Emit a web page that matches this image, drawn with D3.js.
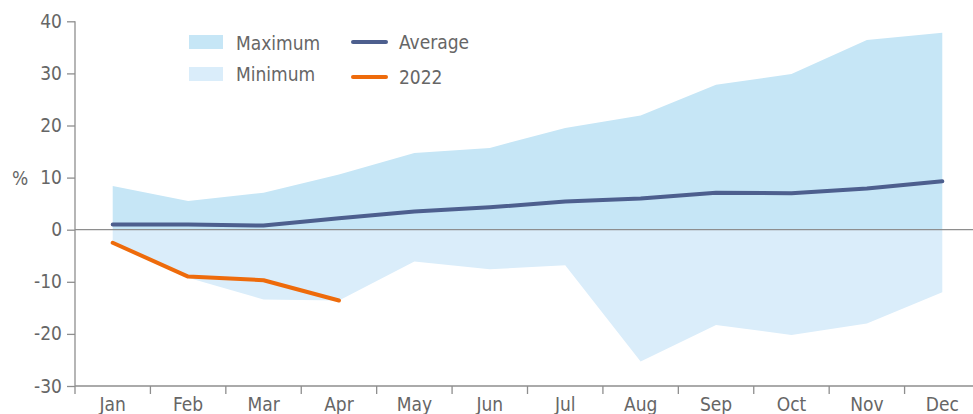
<!DOCTYPE html>
<html>
<head>
<meta charset="utf-8">
<script src="https://cdn.jsdelivr.net/npm/d3@7"></script>
<style>
  html, body { margin: 0; padding: 0; background: #fff; }
  svg { display: block; }
  text { font-family: "Liberation Sans Narrow", "DejaVu Sans Condensed", sans-serif; fill: #666; }
</style>
</head>
<body>
<svg id="chart" width="973" height="414"></svg>
<script>
const months = ["Jan","Feb","Mar","Apr","May","Jun","Jul","Aug","Sep","Oct","Nov","Dec"];
const maximum = [8.4, 5.5, 7.1, 10.6, 14.7, 15.7, 19.5, 21.9, 27.8, 29.9, 36.4, 37.8];
const minimum = [-2.5, -9.2, -13.4, -13.6, -6.1, -7.6, -6.8, -25.3, -18.3, -20.2, -18.0, -12.0];
const average = [1.0, 1.0, 0.8, 2.2, 3.5, 4.3, 5.4, 6.0, 7.1, 7.0, 7.9, 9.3];
const y2022 = [-2.5, -9.0, -9.7, -13.6];
const yTicks = [40, 30, 20, 10, 0, -10, -20, -30];

const svg = d3.select("#chart");
const W = 973;
const x = d3.scaleBand().domain(months).range([75, 980]);
const y = d3.scaleLinear().domain([-30, 40]).range([386, 21.3]);
const cx = m => x(m) + x.bandwidth() / 2;

const axisColor = "#8e8e8e";
const fontFam = "'Liberation Sans Narrow', 'DejaVu Sans Condensed', sans-serif";

// areas
const area = d3.area().x((d, i) => cx(months[i])).y0(y(0)).y1(d => y(d));
svg.append("path").attr("d", area(maximum)).attr("fill", "#c6e6f6");
svg.append("path").attr("d", area(minimum)).attr("fill", "#daedfa");

// zero line
svg.append("line").attr("x1", 75).attr("x2", W).attr("y1", y(0)).attr("y2", y(0))
  .attr("stroke", axisColor).attr("stroke-width", 1.3);

// y axis
const yAxis = d3.axisLeft(y).tickValues(yTicks).tickSize(8).tickPadding(5).tickFormat(d => String(d));
const gy = svg.append("g").attr("transform", "translate(75,0)").call(yAxis);
gy.select(".domain").attr("stroke", axisColor).attr("stroke-width", 1.3).attr("d", `M0,${y(40)}V${y(-30)}`);
gy.selectAll(".tick line").attr("stroke", axisColor).attr("stroke-width", 1.3);
gy.selectAll(".tick text").attr("font-size", 19).attr("fill", "#666").attr("font-family", fontFam);

// x axis
const xAxis = d3.axisBottom(x).tickSize(0).tickPadding(12);
const gx = svg.append("g").attr("transform", `translate(0,${y(-30)})`).call(xAxis);
gx.select(".domain").attr("stroke", axisColor).attr("stroke-width", 1.3).attr("d", `M75,0H${W}`);
gx.selectAll(".tick text").attr("font-size", 19).attr("fill", "#666").attr("font-family", fontFam);
const bounds = months.map(m => x(m)).concat([x.range()[1]]);
gx.selectAll(".bound").data(bounds).enter().append("line")
  .attr("x1", d => d).attr("x2", d => d).attr("y1", 0).attr("y2", 8)
  .attr("stroke", axisColor).attr("stroke-width", 1.3);

// lines
const line = d3.line().x((d, i) => cx(months[i])).y(d => y(d));
svg.append("path").attr("d", line(average)).attr("fill", "none")
  .attr("stroke", "#4d5f8e").attr("stroke-width", 4).attr("stroke-linecap", "round").attr("stroke-linejoin", "round");
svg.append("path").attr("d", line(y2022)).attr("fill", "none")
  .attr("stroke", "#ee6b0b").attr("stroke-width", 4).attr("stroke-linecap", "round").attr("stroke-linejoin", "round");

// % label
svg.append("text").attr("x", 12).attr("y", 185).attr("font-size", 19).text("%");

// legend
const leg = svg.append("g");
leg.append("rect").attr("x", 189).attr("y", 35).attr("width", 34).attr("height", 14).attr("fill", "#c6e6f6");
leg.append("rect").attr("x", 189).attr("y", 67).attr("width", 34).attr("height", 14).attr("fill", "#daedfa");
leg.append("text").attr("x", 236).attr("y", 50).attr("font-size", 19).text("Maximum");
leg.append("text").attr("x", 236).attr("y", 81).attr("font-size", 19).text("Minimum");
leg.append("line").attr("x1", 353).attr("x2", 386).attr("y1", 42).attr("y2", 42)
  .attr("stroke", "#4d5f8e").attr("stroke-width", 4).attr("stroke-linecap", "round");
leg.append("line").attr("x1", 353).attr("x2", 386).attr("y1", 77).attr("y2", 77)
  .attr("stroke", "#ee6b0b").attr("stroke-width", 4).attr("stroke-linecap", "round");
leg.append("text").attr("x", 399).attr("y", 49).attr("font-size", 19).text("Average");
leg.append("text").attr("x", 399).attr("y", 84).attr("font-size", 19).text("2022");
</script>
</body>
</html>
